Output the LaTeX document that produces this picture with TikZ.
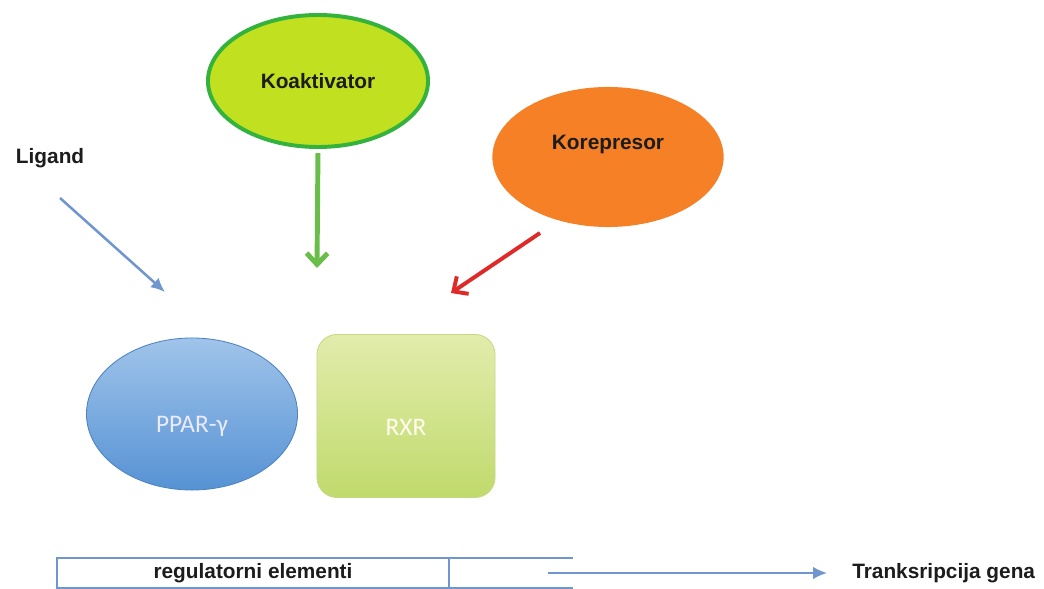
\documentclass[tikz,border=0pt]{standalone}
\usepackage{fontspec}
\setmainfont{Liberation Sans}
\newfontfamily\boxfont{Carlito}
\usetikzlibrary{shapes.geometric, positioning, arrows.meta}

\definecolor{kofill}{RGB}{192,224,32}
\definecolor{koline}{RGB}{52,178,62}
\definecolor{korfill}{RGB}{245,128,37}
\definecolor{redarr}{RGB}{222,42,40}
\definecolor{greenarr}{RGB}{104,190,72}
\definecolor{bluearr}{RGB}{112,150,208}
\definecolor{ppartop}{RGB}{160,196,234}
\definecolor{pparbot}{RGB}{86,146,212}
\definecolor{rxrtop}{RGB}{226,236,172}
\definecolor{rxrbot}{RGB}{192,218,108}
\definecolor{rxrline}{RGB}{198,216,130}
\definecolor{txt}{RGB}{28,28,28}

\tikzset{
  lbl/.style={font=\fontsize{14.8}{17}\selectfont\bfseries, text=txt},
  inlbl/.style={font=\boxfont\fontsize{18}{21}\selectfont},
  dna/.style={draw=bluearr, line width=2pt},
  thinarr/.style={-{Latex[length=10pt, width=9pt]}, bluearr, line width=1.8pt},
  fatarr/.style={-{Straight Barb[length=8pt, width=15pt]}}
}

\begin{document}
\begin{tikzpicture}[x=0.025cm, y=-0.025cm]
\useasboundingbox (0, 0) rectangle (1044, 589);

% top partners
\node [ellipse, fill=kofill, draw=koline, line width=2.8pt, minimum width=5.5cm, minimum height=3.3cm, lbl] (koakt) at (318, 81) {Koaktivator};
\node [ellipse, fill=korfill, minimum width=5.78cm, minimum height=3.5cm, label={[lbl, yshift=0.3cm]center:Korepresor}] (korep) at (608, 157) {};
\node [lbl, anchor=west] (ligand) at (11, 158) {Ligand};

% receptors
\node [ellipse, draw=pparbot!90!black, line width=0.6pt, top color=ppartop, bottom color=pparbot, minimum width=5.275cm, minimum height=3.8cm, label={[inlbl, text=white!92!blue, yshift=-0.32cm]center:PPAR-γ}] (ppar) at (192, 414) {};
\node [rectangle, rounded corners=0.5cm, draw=rxrline, line width=0.6pt, top color=rxrtop, bottom color=rxrbot, minimum width=4.45cm, minimum height=4.075cm, label={[inlbl, text=white!94!yellow, yshift=-0.28cm]center:RXR}] (rxr) at (406, 416) {};

% arrows
\coordinate (ligs) at (60, 198);
\coordinate (lige) at (165, 292);
\coordinate (koe) at (317, 268);
\coordinate (kors) at (540, 233);
\coordinate (kore) at (451, 293);
\draw [thinarr] (ligs) -- (lige);
\draw [fatarr, greenarr, line width=3.5pt, shorten <=3pt] (koakt.south) -- (koe);
\draw [fatarr, redarr, line width=2.8pt] (kors) -- (kore);

% DNA
\node [dna, inner sep=0pt, outer sep=0pt, minimum width=9.8cm, minimum height=0.75cm, lbl] (regel) at (253, 573) {regulatorni elementi};
\coordinate (dnaend) at (573, 573);
\draw [dna] (regel.north east) -- (regel.north east -| dnaend);
\draw [dna] (regel.south east) -- (regel.south east -| dnaend);
\coordinate (txs) at (548, 573);
\node [lbl, anchor=west, inner sep=0pt] (trans) at (852, 573) {Tranksripcija gena};
\draw [thinarr, shorten >=0.62cm] (txs) -- (trans.west);
\end{tikzpicture}
\end{document}
